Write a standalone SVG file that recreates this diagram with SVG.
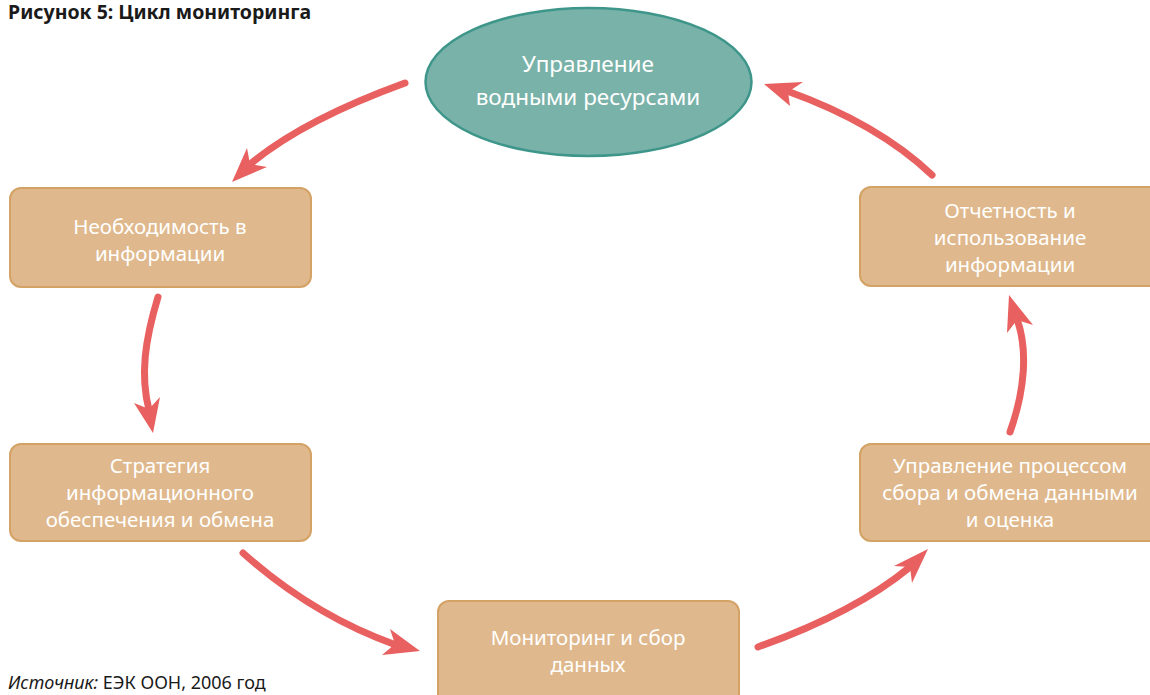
<svg xmlns="http://www.w3.org/2000/svg" width="1150" height="695" viewBox="0 0 1150 695">
<style>
.box{fill:#dfb98d;stroke:#d4a264;stroke-width:2}
.ell{fill:#79b2a9;stroke:#3e968a;stroke-width:2.5}
.t{font-family:"Noto Sans","Open Sans",sans-serif;fill:#ffffff;text-anchor:middle;font-size:20.5px}
.te{font-size:22.5px}
.shaft{fill:none;stroke:#e8605f;stroke-width:7;stroke-linecap:round}
.head{fill:#e8605f}
.title{font-family:"Noto Sans","Open Sans",sans-serif;font-weight:bold;font-size:19.5px;fill:#1a1a1a}
.src{font-family:"Noto Sans","Open Sans",sans-serif;font-size:18px;fill:#1a1a1a}
</style>
<rect width="1150" height="695" fill="#ffffff"/>
<text class="title" x="8" y="19">Рисунок 5: Цикл мониторинга</text>

<g id="node-water">
<ellipse class="ell" cx="588.5" cy="82" rx="163" ry="74"/>
<text class="t te" x="588" y="72">Управление</text>
<text class="t te" x="588" y="105">водными ресурсами</text>
</g>
<g id="node-need">
<rect class="box" x="10" y="188" width="301" height="99" rx="11"/>
<text class="t" x="160" y="234">Необходимость в</text>
<text class="t" x="160" y="261">информации</text>
</g>
<g id="node-strategy">
<rect class="box" x="10" y="444" width="301" height="97" rx="11"/>
<text class="t" x="160" y="473">Стратегия</text>
<text class="t" x="160" y="500">информационного</text>
<text class="t" x="160" y="527">обеспечения и обмена</text>
</g>
<g id="node-monitoring">
<rect class="box" x="438" y="601" width="301" height="110" rx="11"/>
<text class="t" x="588" y="645">Мониторинг и сбор</text>
<text class="t" x="588" y="672">данных</text>
</g>
<g id="node-process">
<rect class="box" x="860" y="444" width="301" height="97" rx="11"/>
<text class="t" x="1010" y="473">Управление процессом</text>
<text class="t" x="1010" y="500">сбора и обмена данными</text>
<text class="t" x="1010" y="527">и оценка</text>
</g>
<g id="node-report">
<rect class="box" x="860" y="187" width="301" height="99" rx="11"/>
<text class="t" x="1010" y="218">Отчетность и</text>
<text class="t" x="1010" y="245">использование</text>
<text class="t" x="1010" y="272">информации</text>
</g>

<g id="connectors">
<path class="shaft" d="M405,83 C350,103 290,130 248,166"/>
<polygon class="head" points="232,182 247,148 250,164 267,167"/>
<path class="shaft" d="M158,297 C145,340 140,375 149,410"/>
<polygon class="head" points="153,433 134,403 149,409 160,397"/>
<path class="shaft" d="M243,553 C290,595 340,625 396,645"/>
<polygon class="head" points="420,651 390,629 395,644 382,655"/>
<path class="shaft" d="M758,647 C820,625 870,600 910,567"/>
<polygon class="head" points="928,549 894,566 910,567 912,583"/>
<path class="shaft" d="M1010,432 C1025,390 1028,350 1017,319"/>
<polygon class="head" points="1009,295 1007,333 1017,320 1033,325"/>
<path class="shaft" d="M932,175 C890,135 840,110 787,91"/>
<polygon class="head" points="764,84 803,82 788,92 790,106"/>
</g>

<text class="src" x="8" y="689"><tspan font-style="italic">Источник:</tspan> ЕЭК ООН, 2006 год</text>
</svg>
